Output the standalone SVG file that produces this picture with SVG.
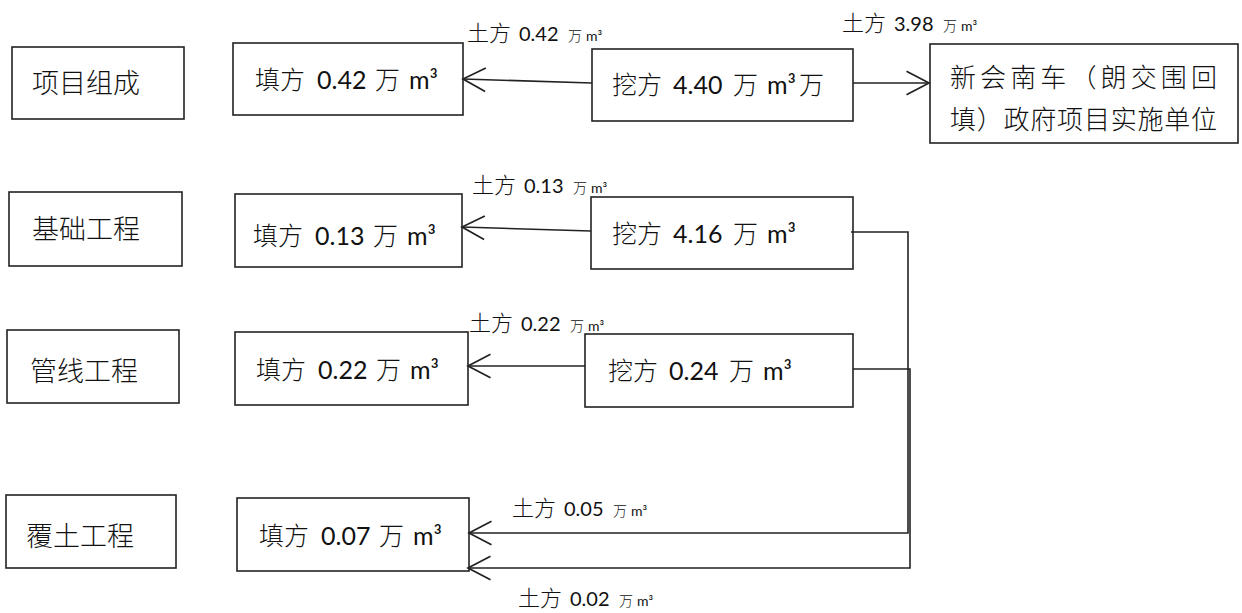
<svg xmlns="http://www.w3.org/2000/svg" width="1242" height="613" viewBox="0 0 1242 613">
<defs>
<style>
.box{fill:#fff;stroke:#222;stroke-width:1.6}
.t{font-family:"Noto Sans CJK SC","Noto Sans",sans-serif;font-weight:300;fill:#111}
.bt{font-family:"Noto Sans CJK SC","Noto Sans",sans-serif;font-weight:300;font-size:25px;fill:#111}
.num{font-family:Lato,"Liberation Sans","Noto Sans CJK SC",sans-serif;font-weight:400}
.lbl{font-family:"Noto Sans CJK SC",sans-serif;font-weight:300;font-size:22px;fill:#111}
.ln{font-family:Lato,"Liberation Sans",sans-serif;font-weight:400;font-size:20px}
.ls{font-size:14px}
.cn{fill:none;stroke:#222;stroke-width:1.6}
.serif{font-family:"Noto Sans CJK SC",sans-serif;font-weight:300;font-size:26px;fill:#111}
</style>
<marker id="ah" markerUnits="userSpaceOnUse" markerWidth="30" markerHeight="30" viewBox="-24 -14 28 28" refX="0" refY="0" orient="auto">
<path d="M-21,-11 L0,0 L-21,11" fill="none" stroke="#222" stroke-width="1.6"/>
</marker>
</defs>
<rect width="1242" height="613" fill="#fff"/>

<g id="n-xmzc"><rect class="box" x="12" y="47" width="172" height="72"/><text class="t" x="32" y="93" font-size="27">项目组成</text></g>
<g id="n-jcgc"><rect class="box" x="9" y="192" width="173" height="74"/><text class="t" x="32" y="239" font-size="27">基础工程</text></g>
<g id="n-gxgc"><rect class="box" x="7" y="330" width="172" height="73"/><text class="t" x="30" y="381" font-size="27">管线工程</text></g>
<g id="n-ftgc"><rect class="box" x="6" y="495" width="170" height="73"/><text class="t" x="26" y="546" font-size="27">覆土工程</text></g>

<g id="n-tf1"><rect class="box" x="233" y="43" width="230" height="72"/><text class="bt" x="255" y="89">填方<tspan class="num" x="317">0.42</tspan><tspan x="375">万</tspan><tspan class="num" x="409">m³</tspan></text></g>
<g id="n-wf1"><rect class="box" x="592" y="49" width="261" height="72"/><text class="bt" x="612" y="94">挖方<tspan class="num" x="673">4.40</tspan><tspan x="733">万</tspan><tspan class="num" x="767">m³</tspan><tspan x="799">万</tspan></text></g>
<g id="n-dest"><rect class="box" x="930" y="44" width="308" height="99"/>
<text class="serif" x="950" y="87" textLength="267" lengthAdjust="spacing">新会南车（朗交围回</text>
<text class="serif" x="950" y="129" textLength="267" lengthAdjust="spacing">填）政府项目实施单位</text></g>

<g id="n-tf2"><rect class="box" x="235" y="194" width="227" height="73"/><text class="bt" x="253" y="245">填方<tspan class="num" x="315">0.13</tspan><tspan x="373">万</tspan><tspan class="num" x="407">m³</tspan></text></g>
<g id="n-wf2"><rect class="box" x="591" y="197" width="262" height="72"/><text class="bt" x="612" y="243">挖方<tspan class="num" x="673">4.16</tspan><tspan x="733">万</tspan><tspan class="num" x="767">m³</tspan></text></g>

<g id="n-tf3"><rect class="box" x="235" y="332" width="233" height="73"/><text class="bt" x="256" y="379">填方<tspan class="num" x="318">0.22</tspan><tspan x="376">万</tspan><tspan class="num" x="410">m³</tspan></text></g>
<g id="n-wf3"><rect class="box" x="585" y="334" width="268" height="73"/><text class="bt" x="608" y="380">挖方<tspan class="num" x="669">0.24</tspan><tspan x="729">万</tspan><tspan class="num" x="763">m³</tspan></text></g>

<g id="n-tf4"><rect class="box" x="237" y="498" width="232" height="73"/><text class="bt" x="259" y="545">填方<tspan class="num" x="321">0.07</tspan><tspan x="379">万</tspan><tspan class="num" x="413">m³</tspan></text></g>

<g id="connectors">
<path class="cn" d="M592,83 L463,79" marker-end="url(#ah)"/>
<path class="cn" d="M853,83 L929,83" marker-end="url(#ah)"/>
<path class="cn" d="M591,231 L462,227" marker-end="url(#ah)"/>
<path class="cn" d="M585,366 L468,366" marker-end="url(#ah)"/>
<path class="cn" d="M851,232 H908 V533 H469" marker-end="url(#ah)"/>
<path class="cn" d="M853,369 H910 V568 H468" marker-end="url(#ah)"/>
</g>

<g id="labels">
<text class="lbl" x="467" y="41">土方<tspan class="ln" x="519">0.42</tspan><tspan class="ls" x="568">万</tspan><tspan class="ln ls" x="586">m³</tspan></text>
<text class="lbl" x="842" y="31">土方<tspan class="ln" x="894">3.98</tspan><tspan class="ls" x="943">万</tspan><tspan class="ln ls" x="961">m³</tspan></text>
<text class="lbl" x="472" y="193">土方<tspan class="ln" x="524">0.13</tspan><tspan class="ls" x="573">万</tspan><tspan class="ln ls" x="591">m³</tspan></text>
<text class="lbl" x="469" y="331">土方<tspan class="ln" x="521">0.22</tspan><tspan class="ls" x="570">万</tspan><tspan class="ln ls" x="588">m³</tspan></text>
<text class="lbl" x="512" y="516">土方<tspan class="ln" x="564">0.05</tspan><tspan class="ls" x="613">万</tspan><tspan class="ln ls" x="631">m³</tspan></text>
<text class="lbl" x="518" y="606">土方<tspan class="ln" x="570">0.02</tspan><tspan class="ls" x="619">万</tspan><tspan class="ln ls" x="637">m³</tspan></text>
</g>
</svg>
